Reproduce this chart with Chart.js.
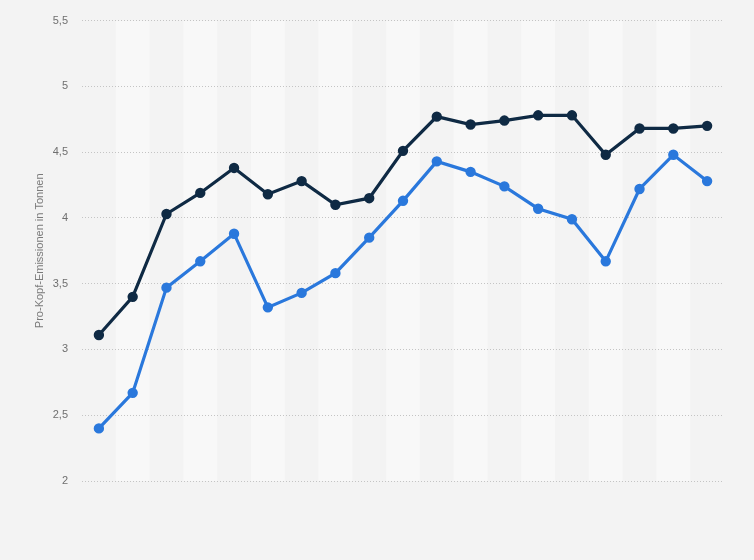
<!DOCTYPE html>
<html>
<head>
<meta charset="utf-8">
<script src="https://cdn.jsdelivr.net/npm/chart.js@4"></script>
<style>
  html, body { margin: 0; padding: 0; background: #f3f3f3; }
  #wrap { width: 754px; height: 560px; }
</style>
</head>
<body>
<div id="wrap"><canvas id="emissionenChart"></canvas></div>
<script>
// Jahre ohne Beschriftung in der Vorlage, daher nur Indizes
const kategorien = ['1', '2', '3', '4', '5', '6', '7', '8', '9', '10',
    '11', '12', '13', '14', '15', '16', '17', '18', '19'];
const werteDunkel = [3.11, 3.40, 4.03, 4.19, 4.38, 4.18, 4.28, 4.10, 4.15, 4.51,
    4.77, 4.71, 4.74, 4.78, 4.78, 4.48, 4.68, 4.68, 4.70];
const werteBlau = [2.40, 2.67, 3.47, 3.67, 3.88, 3.32, 3.43, 3.58, 3.85, 4.13,
    4.43, 4.35, 4.24, 4.07, 3.99, 3.67, 4.22, 4.48, 4.28];
const yTicks = [2, 2.5, 3, 3.5, 4, 4.5, 5, 5.5];

// Hintergrund und abwechselnde Spalten
const streifenPlugin = {
    id: 'streifen',
    beforeDraw(chart) {
        const { ctx, chartArea, scales } = chart;
        ctx.save();
        ctx.fillStyle = '#f3f3f3';
        ctx.fillRect(0, 0, chart.width, chart.height);
        const breite = (chartArea.right - chartArea.left) / kategorien.length;
        ctx.fillStyle = '#f8f8f8';
        kategorien.forEach((k, i) => {
            if (i % 2 === 1) {
                const mitte = scales.x.getPixelForValue(i);
                ctx.fillRect(mitte - breite / 2, chartArea.top, breite, chartArea.bottom - chartArea.top);
            }
        });
        ctx.restore();
    }
};

const ctx = document.getElementById('emissionenChart').getContext('2d');
new Chart(ctx, {
    type: 'line',
    data: {
        labels: kategorien,
        datasets: [
            {
                data: werteDunkel,
                borderColor: '#0f2a44',
                backgroundColor: '#0f2a44',
                borderWidth: 3.2,
                pointRadius: 3.6,
                pointHoverRadius: 3.6,
                tension: 0
            },
            {
                data: werteBlau,
                borderColor: '#2a78dc',
                backgroundColor: '#2a78dc',
                borderWidth: 3.2,
                pointRadius: 3.6,
                pointHoverRadius: 3.6,
                tension: 0
            }
        ]
    },
    options: {
        responsive: true,
        maintainAspectRatio: false,
        animation: false,
        layout: { padding: { top: 20, right: 30, bottom: 79, left: 0 } },
        plugins: {
            legend: { display: false },
            tooltip: { enabled: false }
        },
        scales: {
            x: {
                display: false,
                offset: true
            },
            y: {
                min: 2,
                max: 5.5,
                afterFit(scale) { scale.width = 82; },
                afterBuildTicks(scale) { scale.ticks = yTicks.map(v => ({ value: v })); },
                border: { display: false, dash: [1, 2] },
                grid: {
                    color: '#c4c4c4',
                    drawTicks: false,
                    lineWidth: 1
                },
                ticks: {
                    padding: 14,
                    color: '#6f6f6f',
                    font: { family: 'Liberation Sans, Arial, sans-serif', size: 11 },
                    callback: v => String(v).replace('.', ',')
                },
                title: {
                    display: true,
                    text: 'Pro-Kopf-Emissionen in Tonnen',
                    color: '#7a7a7a',
                    font: { family: 'Liberation Sans, Arial, sans-serif', size: 11 },
                    padding: { top: 33, bottom: 0 }
                }
            }
        }
    },
    plugins: [streifenPlugin]
});
</script>
</body>
</html>
